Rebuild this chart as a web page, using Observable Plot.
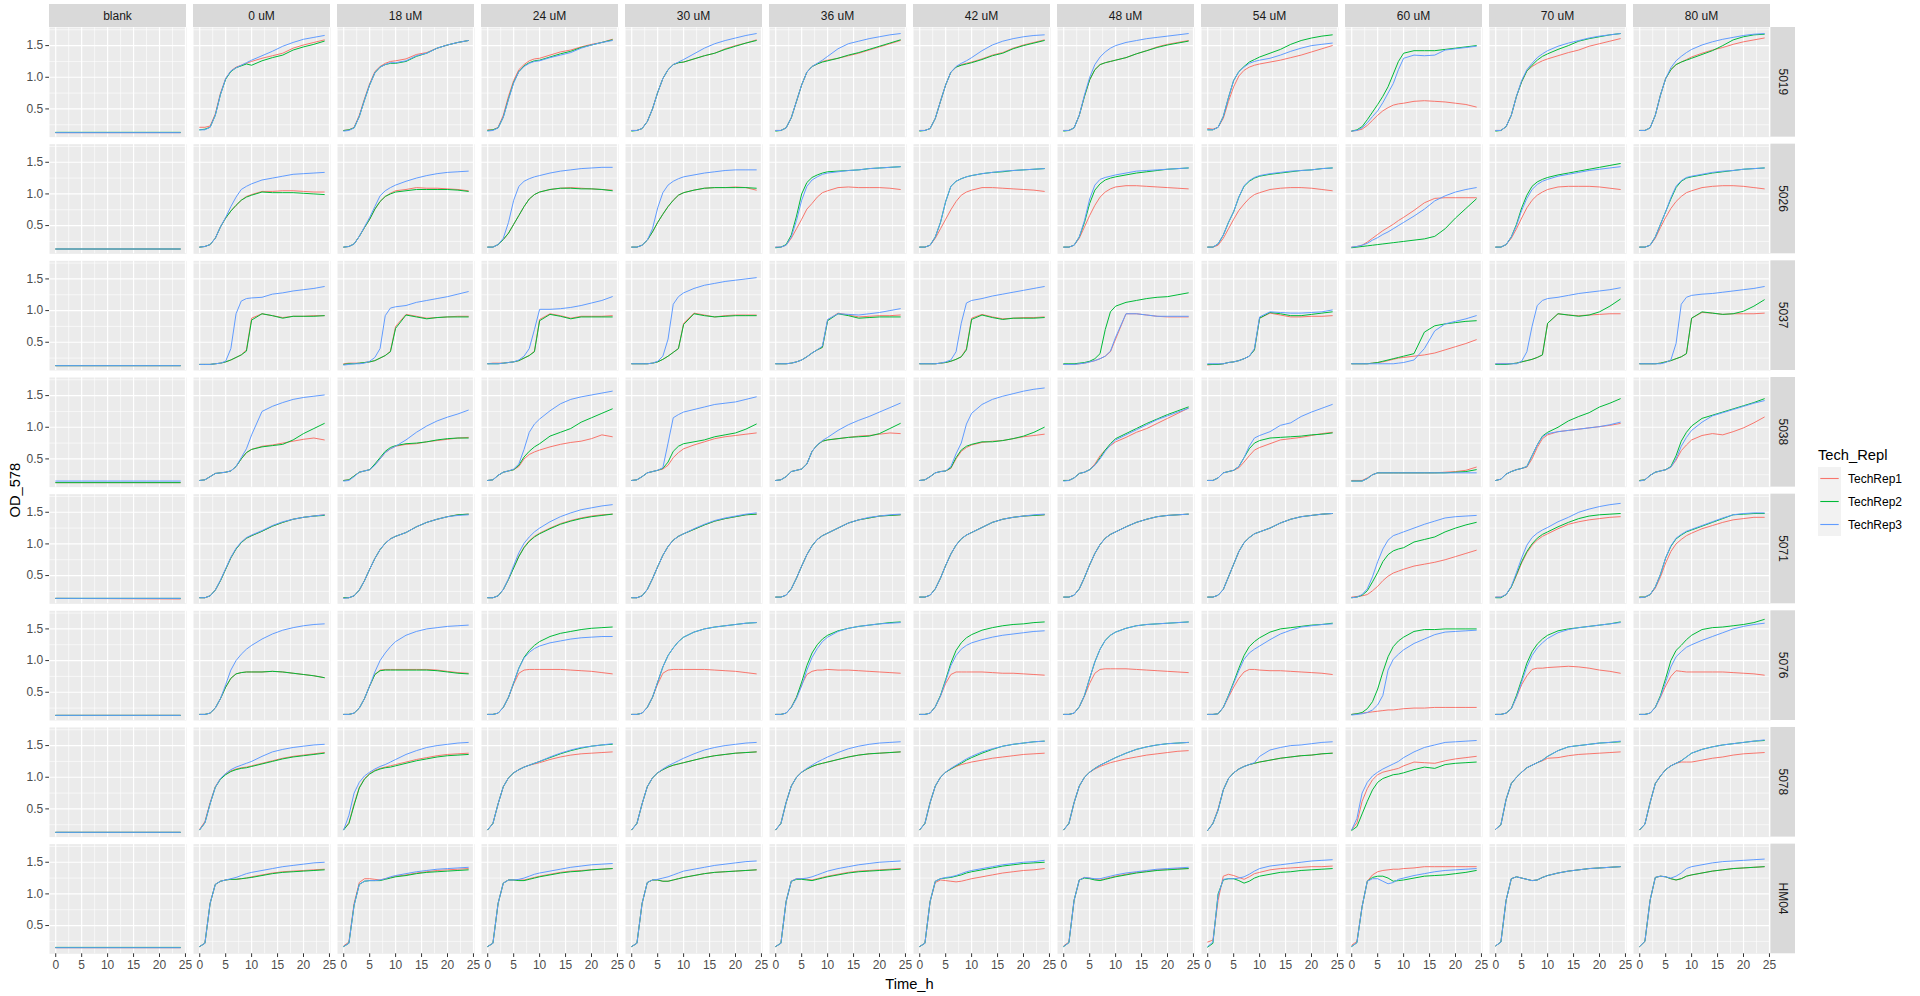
<!DOCTYPE html>
<html><head><meta charset="utf-8">
<script src="https://cdn.jsdelivr.net/npm/d3@7"></script>
<script src="https://cdn.jsdelivr.net/npm/@observablehq/plot@0.6"></script>
<style>html,body{margin:0;padding:0;background:#fff;} svg{display:block;}</style>
</head><body><div id="chart"></div>
<script>
const TIMES = [0,1,2,3,4,5,6,7,8,9,10,12,14,16,18,20,22,24];
const BLANK_T = [0, 24];
const CONCS = ["blank","0 uM","18 uM","24 uM","30 uM","36 uM","42 uM","48 uM","54 uM","60 uM","70 uM","80 uM"];
const STRAINS = ["5019","5026","5037","5038","5071","5076","5078","HM04"];
const REPS = ["TechRep1","TechRep2","TechRep3"];
const REP_COLORS = ["#F8766D","#00BA38","#619CFF"];
const X_TICKS = [0,5,10,15,20,25];
const X_MINOR = [2.5,7.5,12.5,17.5,22.5];
const Y_TICKS = [0.5,1.0,1.5];
const Y_MINOR = [0.25,0.75,1.25,1.75];

const OD_5019 = [
 [[0.125,0.125],[0.13,0.13],[0.125,0.125]],
 [[0.21,0.21,0.23,0.42,0.75,0.98,1.10,1.16,1.19,1.22,1.25,1.30,1.34,1.38,1.46,1.51,1.55,1.59],
  [0.17,0.18,0.21,0.40,0.73,0.97,1.09,1.15,1.18,1.21,1.19,1.26,1.31,1.35,1.43,1.48,1.52,1.57],
  [0.17,0.17,0.21,0.40,0.73,0.98,1.10,1.15,1.19,1.23,1.27,1.34,1.41,1.49,1.55,1.60,1.63,1.66]],
 [[0.16,0.17,0.21,0.40,0.66,0.90,1.09,1.17,1.22,1.25,1.26,1.29,1.36,1.39,1.46,1.51,1.55,1.58],
  [0.16,0.17,0.20,0.38,0.64,0.88,1.07,1.16,1.20,1.22,1.22,1.25,1.33,1.38,1.46,1.51,1.55,1.58],
  [0.15,0.16,0.20,0.38,0.64,0.88,1.07,1.16,1.20,1.23,1.23,1.26,1.34,1.38,1.46,1.51,1.55,1.58]],
 [[0.17,0.17,0.21,0.40,0.70,0.95,1.12,1.20,1.26,1.29,1.30,1.35,1.40,1.43,1.48,1.52,1.55,1.60],
  [0.16,0.17,0.20,0.37,0.66,0.92,1.09,1.18,1.23,1.26,1.27,1.32,1.37,1.41,1.47,1.51,1.55,1.59],
  [0.15,0.16,0.20,0.37,0.65,0.91,1.09,1.17,1.22,1.25,1.26,1.31,1.35,1.39,1.46,1.51,1.55,1.58]],
 [[0.16,0.16,0.19,0.30,0.50,0.76,0.98,1.12,1.20,1.23,1.24,1.29,1.34,1.38,1.45,1.50,1.54,1.59],
  [0.15,0.16,0.19,0.30,0.50,0.76,0.98,1.12,1.20,1.23,1.24,1.29,1.34,1.38,1.44,1.49,1.54,1.58],
  [0.16,0.16,0.19,0.30,0.50,0.76,0.98,1.12,1.20,1.24,1.28,1.37,1.46,1.53,1.58,1.62,1.66,1.69]],
 [[0.16,0.16,0.20,0.36,0.62,0.88,1.08,1.17,1.21,1.25,1.27,1.30,1.34,1.38,1.43,1.48,1.53,1.58],
  [0.15,0.16,0.20,0.36,0.62,0.88,1.08,1.17,1.21,1.24,1.26,1.30,1.35,1.39,1.44,1.49,1.54,1.59],
  [0.16,0.16,0.20,0.36,0.62,0.88,1.08,1.17,1.22,1.27,1.33,1.45,1.53,1.57,1.61,1.64,1.67,1.69]],
 [[0.16,0.16,0.19,0.35,0.62,0.88,1.08,1.16,1.20,1.22,1.24,1.29,1.35,1.39,1.46,1.51,1.55,1.59],
  [0.15,0.16,0.19,0.35,0.62,0.88,1.08,1.16,1.19,1.21,1.23,1.28,1.34,1.38,1.45,1.50,1.54,1.58],
  [0.16,0.16,0.19,0.35,0.62,0.88,1.08,1.17,1.22,1.26,1.31,1.42,1.51,1.57,1.61,1.64,1.66,1.67]],
 [[0.16,0.16,0.20,0.40,0.70,0.96,1.12,1.20,1.23,1.25,1.27,1.31,1.37,1.42,1.48,1.52,1.55,1.58],
  [0.15,0.16,0.20,0.40,0.70,0.96,1.12,1.20,1.23,1.25,1.27,1.31,1.37,1.42,1.47,1.51,1.54,1.57],
  [0.16,0.16,0.20,0.40,0.72,1.00,1.20,1.32,1.40,1.46,1.50,1.55,1.58,1.61,1.63,1.65,1.67,1.69]],
 [[0.19,0.18,0.21,0.35,0.62,0.85,1.02,1.11,1.16,1.19,1.21,1.24,1.27,1.31,1.35,1.40,1.45,1.50],
  [0.17,0.17,0.21,0.38,0.68,0.95,1.09,1.17,1.24,1.28,1.32,1.38,1.44,1.52,1.58,1.62,1.65,1.67],
  [0.17,0.17,0.21,0.38,0.68,0.95,1.09,1.16,1.22,1.25,1.27,1.30,1.35,1.41,1.46,1.50,1.52,1.54]],
 [[0.15,0.16,0.18,0.24,0.32,0.40,0.47,0.52,0.56,0.58,0.59,0.62,0.63,0.62,0.61,0.59,0.57,0.53],
  [0.15,0.17,0.22,0.33,0.45,0.57,0.70,0.85,1.05,1.25,1.38,1.42,1.42,1.42,1.44,1.46,1.48,1.50],
  [0.15,0.16,0.20,0.28,0.38,0.47,0.60,0.75,0.90,1.12,1.30,1.35,1.34,1.35,1.43,1.45,1.47,1.49]],
 [[0.16,0.16,0.22,0.40,0.70,0.93,1.10,1.17,1.22,1.26,1.29,1.34,1.39,1.43,1.49,1.53,1.57,1.61],
  [0.15,0.16,0.22,0.40,0.70,0.93,1.10,1.19,1.27,1.33,1.37,1.44,1.50,1.57,1.61,1.64,1.67,1.69],
  [0.16,0.16,0.22,0.40,0.70,0.95,1.12,1.22,1.31,1.37,1.42,1.49,1.54,1.58,1.62,1.65,1.67,1.69]],
 [[0.16,0.16,0.20,0.40,0.72,0.98,1.12,1.20,1.24,1.28,1.32,1.38,1.43,1.47,1.52,1.56,1.59,1.62],
  [0.16,0.16,0.20,0.40,0.72,0.98,1.12,1.20,1.24,1.27,1.30,1.36,1.42,1.50,1.59,1.64,1.67,1.68],
  [0.16,0.16,0.20,0.40,0.72,0.98,1.15,1.26,1.33,1.39,1.44,1.51,1.56,1.60,1.63,1.66,1.68,1.69]]
];

const OD_5026 = [
 [[0.13,0.13],[0.13,0.13],[0.13,0.13]],
 [[0.16,0.17,0.20,0.30,0.48,0.62,0.73,0.82,0.90,0.96,0.99,1.04,1.04,1.05,1.05,1.04,1.03,1.03],
  [0.16,0.17,0.20,0.30,0.48,0.62,0.73,0.82,0.90,0.95,0.98,1.03,1.02,1.02,1.02,1.01,1.00,0.99],
  [0.16,0.17,0.20,0.30,0.48,0.63,0.80,0.95,1.07,1.12,1.16,1.22,1.25,1.28,1.31,1.32,1.33,1.34]],
 [[0.16,0.17,0.21,0.33,0.47,0.60,0.76,0.88,0.96,1.01,1.05,1.07,1.10,1.09,1.09,1.08,1.07,1.05],
  [0.16,0.17,0.21,0.33,0.47,0.60,0.76,0.88,0.96,1.00,1.03,1.05,1.07,1.07,1.07,1.07,1.06,1.04],
  [0.16,0.17,0.21,0.33,0.48,0.63,0.80,0.97,1.05,1.10,1.14,1.20,1.25,1.29,1.32,1.34,1.35,1.36]],
 [[0.16,0.16,0.20,0.28,0.38,0.52,0.66,0.80,0.92,0.99,1.03,1.07,1.09,1.10,1.09,1.08,1.07,1.06],
  [0.16,0.16,0.20,0.28,0.38,0.52,0.66,0.80,0.92,0.99,1.03,1.07,1.09,1.09,1.08,1.08,1.07,1.05],
  [0.16,0.16,0.20,0.30,0.55,0.90,1.12,1.20,1.24,1.27,1.29,1.33,1.36,1.38,1.40,1.41,1.42,1.42]],
 [[0.16,0.16,0.19,0.27,0.40,0.55,0.68,0.80,0.90,0.98,1.02,1.06,1.09,1.10,1.10,1.11,1.10,1.06],
  [0.16,0.16,0.19,0.27,0.40,0.55,0.68,0.80,0.90,0.98,1.02,1.06,1.09,1.10,1.10,1.10,1.10,1.09],
  [0.16,0.16,0.19,0.27,0.45,0.78,1.02,1.14,1.20,1.24,1.27,1.30,1.33,1.35,1.37,1.38,1.38,1.38]],
 [[0.16,0.16,0.19,0.30,0.45,0.60,0.76,0.85,0.95,1.02,1.05,1.10,1.11,1.10,1.10,1.10,1.09,1.07],
  [0.15,0.16,0.20,0.35,0.65,1.00,1.18,1.26,1.30,1.33,1.35,1.36,1.37,1.38,1.40,1.41,1.42,1.43],
  [0.16,0.16,0.19,0.32,0.58,0.90,1.12,1.22,1.27,1.31,1.33,1.35,1.37,1.38,1.40,1.41,1.42,1.43]],
 [[0.16,0.16,0.19,0.30,0.45,0.60,0.75,0.88,0.98,1.03,1.06,1.10,1.10,1.09,1.08,1.07,1.06,1.04],
  [0.16,0.16,0.19,0.32,0.55,0.88,1.12,1.20,1.24,1.27,1.29,1.32,1.34,1.35,1.37,1.38,1.39,1.40],
  [0.16,0.16,0.19,0.32,0.55,0.88,1.12,1.20,1.24,1.27,1.29,1.32,1.34,1.36,1.37,1.38,1.39,1.40]],
 [[0.16,0.16,0.19,0.30,0.48,0.66,0.82,0.95,1.03,1.08,1.11,1.13,1.13,1.12,1.11,1.10,1.09,1.08],
  [0.16,0.16,0.19,0.32,0.55,0.85,1.06,1.16,1.22,1.25,1.27,1.30,1.33,1.35,1.37,1.39,1.40,1.41],
  [0.16,0.16,0.19,0.32,0.58,0.92,1.14,1.23,1.26,1.28,1.30,1.33,1.36,1.37,1.38,1.39,1.40,1.41]],
 [[0.16,0.16,0.19,0.30,0.45,0.60,0.74,0.84,0.93,0.99,1.02,1.07,1.09,1.10,1.10,1.09,1.07,1.05],
  [0.16,0.16,0.21,0.35,0.55,0.72,0.95,1.12,1.20,1.25,1.28,1.31,1.33,1.35,1.37,1.38,1.40,1.41],
  [0.16,0.16,0.21,0.35,0.55,0.72,0.95,1.13,1.21,1.26,1.29,1.32,1.34,1.36,1.37,1.38,1.40,1.41]],
 [[0.16,0.17,0.19,0.24,0.30,0.36,0.42,0.47,0.52,0.58,0.63,0.74,0.86,0.93,0.94,0.94,0.94,0.94],
  [0.15,0.16,0.17,0.18,0.19,0.20,0.21,0.22,0.23,0.24,0.25,0.27,0.29,0.33,0.45,0.62,0.77,0.92],
  [0.16,0.17,0.19,0.22,0.27,0.31,0.36,0.40,0.45,0.50,0.55,0.65,0.76,0.89,0.97,1.03,1.07,1.10]],
 [[0.16,0.16,0.20,0.30,0.45,0.62,0.78,0.90,0.98,1.03,1.07,1.11,1.12,1.12,1.12,1.11,1.09,1.07],
  [0.16,0.16,0.20,0.32,0.52,0.78,0.98,1.12,1.19,1.23,1.26,1.30,1.33,1.36,1.39,1.42,1.45,1.48],
  [0.16,0.16,0.20,0.32,0.50,0.74,0.93,1.07,1.15,1.20,1.23,1.28,1.31,1.34,1.37,1.39,1.41,1.43]],
 [[0.16,0.16,0.19,0.30,0.47,0.63,0.77,0.88,0.96,1.02,1.05,1.10,1.12,1.13,1.13,1.12,1.10,1.08],
  [0.16,0.16,0.19,0.32,0.52,0.72,0.92,1.10,1.20,1.25,1.27,1.30,1.33,1.35,1.37,1.39,1.40,1.41],
  [0.16,0.16,0.19,0.32,0.52,0.72,0.94,1.12,1.21,1.26,1.28,1.31,1.34,1.36,1.37,1.39,1.40,1.41]]
];

const OD_5037 = [
 [[0.13,0.13],[0.13,0.13],[0.13,0.13]],
 [[0.15,0.15,0.15,0.16,0.17,0.19,0.22,0.26,0.30,0.38,0.88,0.95,0.92,0.89,0.91,0.91,0.92,0.92],
  [0.15,0.15,0.15,0.16,0.17,0.19,0.22,0.26,0.30,0.36,0.85,0.95,0.92,0.88,0.91,0.91,0.91,0.92],
  [0.15,0.15,0.15,0.16,0.17,0.20,0.40,0.95,1.15,1.19,1.20,1.21,1.26,1.28,1.31,1.33,1.35,1.38]],
 [[0.16,0.17,0.17,0.17,0.18,0.19,0.21,0.25,0.29,0.36,0.75,0.94,0.91,0.88,0.89,0.90,0.91,0.91],
  [0.15,0.16,0.16,0.17,0.18,0.19,0.21,0.25,0.29,0.35,0.72,0.93,0.90,0.87,0.89,0.90,0.90,0.90],
  [0.14,0.15,0.16,0.16,0.17,0.20,0.26,0.40,0.92,1.04,1.06,1.08,1.13,1.16,1.19,1.22,1.26,1.30]],
 [[0.16,0.17,0.17,0.17,0.18,0.19,0.21,0.25,0.29,0.36,0.86,0.95,0.92,0.88,0.91,0.91,0.91,0.92],
  [0.16,0.16,0.16,0.17,0.18,0.19,0.21,0.25,0.29,0.35,0.84,0.94,0.91,0.87,0.90,0.90,0.90,0.90],
  [0.16,0.16,0.16,0.17,0.18,0.19,0.22,0.28,0.40,0.70,1.02,1.02,1.03,1.05,1.08,1.12,1.16,1.22]],
 [[0.16,0.16,0.16,0.16,0.17,0.19,0.23,0.28,0.34,0.40,0.80,0.96,0.93,0.90,0.92,0.93,0.93,0.93],
  [0.16,0.16,0.16,0.16,0.17,0.19,0.23,0.28,0.34,0.40,0.78,0.95,0.92,0.90,0.91,0.92,0.92,0.92],
  [0.16,0.16,0.16,0.16,0.17,0.20,0.28,0.55,1.10,1.22,1.28,1.35,1.40,1.43,1.46,1.48,1.50,1.52]],
 [[0.16,0.16,0.16,0.17,0.19,0.22,0.27,0.33,0.38,0.42,0.85,0.96,0.93,0.90,0.91,0.92,0.92,0.93],
  [0.16,0.16,0.16,0.17,0.19,0.22,0.27,0.33,0.38,0.42,0.84,0.95,0.92,0.88,0.89,0.90,0.90,0.90],
  [0.16,0.16,0.16,0.17,0.19,0.22,0.27,0.33,0.38,0.44,0.86,0.95,0.94,0.93,0.95,0.97,1.00,1.03]],
 [[0.16,0.16,0.16,0.16,0.17,0.18,0.20,0.23,0.27,0.40,0.88,0.94,0.90,0.87,0.88,0.89,0.89,0.90],
  [0.16,0.16,0.16,0.16,0.17,0.18,0.20,0.23,0.27,0.38,0.86,0.93,0.89,0.86,0.88,0.88,0.88,0.89],
  [0.16,0.16,0.16,0.16,0.17,0.19,0.22,0.35,0.80,1.12,1.16,1.19,1.23,1.26,1.29,1.32,1.35,1.38]],
 [[0.15,0.15,0.15,0.16,0.17,0.19,0.21,0.24,0.28,0.35,0.55,0.95,0.95,0.93,0.91,0.90,0.90,0.90],
  [0.16,0.16,0.16,0.17,0.18,0.20,0.24,0.32,0.70,0.98,1.07,1.13,1.16,1.19,1.21,1.22,1.25,1.28],
  [0.15,0.15,0.15,0.16,0.17,0.19,0.21,0.24,0.28,0.36,0.58,0.95,0.95,0.93,0.91,0.91,0.91,0.91]],
 [[0.14,0.15,0.15,0.16,0.18,0.19,0.21,0.24,0.28,0.38,0.88,0.96,0.93,0.90,0.90,0.91,0.91,0.92],
  [0.15,0.15,0.15,0.16,0.18,0.19,0.21,0.24,0.28,0.38,0.88,0.97,0.95,0.92,0.92,0.94,0.96,0.98],
  [0.16,0.16,0.16,0.16,0.18,0.19,0.21,0.24,0.28,0.40,0.90,0.98,0.97,0.96,0.96,0.97,0.98,1.01]],
 [[0.16,0.16,0.16,0.16,0.17,0.18,0.19,0.21,0.23,0.25,0.26,0.28,0.30,0.33,0.38,0.43,0.48,0.54],
  [0.16,0.16,0.16,0.16,0.17,0.18,0.20,0.22,0.24,0.26,0.28,0.32,0.66,0.76,0.79,0.81,0.83,0.84],
  [0.16,0.16,0.16,0.16,0.16,0.16,0.16,0.16,0.16,0.17,0.18,0.22,0.40,0.68,0.79,0.83,0.87,0.92]],
 [[0.16,0.16,0.16,0.16,0.17,0.19,0.21,0.23,0.26,0.30,0.80,0.95,0.93,0.92,0.93,0.94,0.95,0.95],
  [0.15,0.15,0.15,0.16,0.17,0.19,0.21,0.23,0.26,0.30,0.80,0.95,0.93,0.91,0.93,0.98,1.07,1.18],
  [0.16,0.16,0.16,0.16,0.16,0.20,0.35,0.75,1.08,1.16,1.19,1.21,1.24,1.27,1.29,1.31,1.33,1.36]],
 [[0.16,0.16,0.16,0.16,0.17,0.19,0.21,0.24,0.27,0.32,0.88,0.97,0.96,0.94,0.95,0.95,0.95,0.96],
  [0.16,0.16,0.16,0.16,0.17,0.19,0.21,0.24,0.27,0.32,0.88,0.98,0.96,0.94,0.95,0.99,1.07,1.17],
  [0.16,0.16,0.16,0.16,0.16,0.18,0.22,0.48,1.10,1.21,1.24,1.26,1.27,1.29,1.31,1.33,1.35,1.38]]
];

const OD_5038 = [
 [[0.125,0.125],[0.125,0.125],[0.15,0.15]],
 [[0.16,0.17,0.22,0.27,0.28,0.29,0.31,0.38,0.50,0.60,0.65,0.70,0.72,0.75,0.78,0.81,0.83,0.80],
  [0.16,0.17,0.22,0.27,0.28,0.29,0.31,0.38,0.50,0.60,0.65,0.69,0.71,0.73,0.80,0.90,0.98,1.06],
  [0.16,0.17,0.22,0.27,0.28,0.29,0.31,0.38,0.52,0.66,0.88,1.25,1.33,1.39,1.44,1.47,1.49,1.51]],
 [[0.16,0.17,0.23,0.29,0.31,0.33,0.41,0.50,0.60,0.66,0.70,0.73,0.74,0.77,0.79,0.81,0.83,0.84],
  [0.16,0.17,0.23,0.29,0.31,0.33,0.42,0.52,0.62,0.68,0.71,0.74,0.75,0.77,0.80,0.82,0.83,0.83],
  [0.15,0.16,0.22,0.29,0.31,0.33,0.40,0.50,0.60,0.66,0.70,0.80,0.92,1.02,1.10,1.16,1.21,1.27]],
 [[0.16,0.17,0.24,0.29,0.31,0.33,0.38,0.50,0.57,0.61,0.64,0.69,0.73,0.76,0.78,0.82,0.88,0.85],
  [0.16,0.17,0.24,0.29,0.31,0.33,0.40,0.53,0.62,0.69,0.74,0.86,0.92,0.98,1.08,1.15,1.22,1.29],
  [0.16,0.17,0.24,0.29,0.31,0.34,0.42,0.65,0.92,1.05,1.13,1.26,1.37,1.44,1.48,1.51,1.54,1.57]],
 [[0.16,0.17,0.22,0.28,0.30,0.32,0.34,0.40,0.52,0.60,0.66,0.72,0.77,0.82,0.85,0.87,0.89,0.91],
  [0.16,0.17,0.22,0.28,0.30,0.32,0.35,0.45,0.62,0.70,0.74,0.77,0.80,0.85,0.88,0.91,0.97,1.05],
  [0.16,0.17,0.22,0.28,0.30,0.32,0.36,0.75,1.15,1.20,1.24,1.28,1.32,1.36,1.38,1.40,1.44,1.48]],
 [[0.16,0.17,0.22,0.30,0.32,0.34,0.42,0.62,0.72,0.78,0.80,0.82,0.84,0.86,0.87,0.89,0.91,0.90],
  [0.16,0.17,0.22,0.30,0.32,0.34,0.42,0.62,0.72,0.78,0.80,0.82,0.84,0.85,0.86,0.90,0.98,1.06],
  [0.16,0.17,0.22,0.30,0.32,0.34,0.42,0.62,0.72,0.79,0.84,0.95,1.04,1.11,1.17,1.24,1.31,1.38]],
 [[0.16,0.17,0.22,0.28,0.30,0.31,0.35,0.50,0.62,0.68,0.72,0.76,0.78,0.79,0.82,0.85,0.87,0.89],
  [0.16,0.17,0.22,0.28,0.30,0.31,0.36,0.52,0.64,0.70,0.73,0.77,0.77,0.79,0.82,0.86,0.92,1.00],
  [0.16,0.17,0.22,0.28,0.30,0.31,0.38,0.58,0.75,1.05,1.22,1.36,1.44,1.49,1.53,1.57,1.60,1.62]],
 [[0.16,0.16,0.20,0.27,0.29,0.33,0.42,0.55,0.64,0.71,0.77,0.84,0.92,0.98,1.06,1.14,1.22,1.30],
  [0.16,0.16,0.20,0.27,0.29,0.33,0.40,0.52,0.64,0.74,0.82,0.90,0.98,1.06,1.13,1.20,1.26,1.32],
  [0.15,0.16,0.20,0.27,0.29,0.33,0.40,0.50,0.62,0.72,0.80,0.88,0.96,1.04,1.12,1.18,1.24,1.30]],
 [[0.16,0.16,0.20,0.28,0.30,0.32,0.36,0.45,0.55,0.64,0.68,0.74,0.80,0.82,0.84,0.87,0.90,0.92],
  [0.16,0.16,0.20,0.28,0.30,0.32,0.38,0.52,0.66,0.75,0.79,0.83,0.84,0.85,0.86,0.88,0.89,0.91],
  [0.16,0.16,0.20,0.28,0.30,0.32,0.38,0.52,0.70,0.83,0.87,0.93,1.03,1.07,1.17,1.24,1.30,1.36]],
 [[0.16,0.16,0.16,0.20,0.25,0.28,0.28,0.28,0.28,0.28,0.28,0.28,0.28,0.28,0.29,0.30,0.32,0.37],
  [0.15,0.15,0.15,0.19,0.25,0.28,0.28,0.28,0.28,0.28,0.28,0.28,0.28,0.28,0.28,0.29,0.30,0.33],
  [0.15,0.15,0.15,0.19,0.25,0.28,0.28,0.28,0.28,0.28,0.28,0.28,0.28,0.28,0.28,0.28,0.28,0.28]],
 [[0.16,0.18,0.26,0.30,0.33,0.35,0.37,0.50,0.68,0.82,0.88,0.93,0.95,0.97,0.99,1.01,1.03,1.06],
  [0.16,0.18,0.26,0.30,0.33,0.35,0.38,0.55,0.72,0.86,0.92,1.00,1.10,1.17,1.23,1.32,1.38,1.45],
  [0.16,0.18,0.26,0.30,0.33,0.35,0.38,0.55,0.72,0.85,0.90,0.93,0.95,0.97,0.99,1.01,1.04,1.08]],
 [[0.16,0.17,0.24,0.29,0.31,0.33,0.37,0.48,0.63,0.72,0.80,0.87,0.90,0.88,0.93,0.99,1.07,1.16],
  [0.16,0.17,0.24,0.29,0.31,0.33,0.38,0.55,0.78,0.92,1.02,1.14,1.19,1.24,1.29,1.34,1.39,1.45],
  [0.15,0.17,0.24,0.29,0.31,0.33,0.37,0.50,0.70,0.84,0.95,1.08,1.18,1.23,1.28,1.33,1.38,1.42]]
];

const OD_5071 = [
 [[0.14,0.13],[0.14,0.14],[0.14,0.14]],
 [[0.15,0.15,0.18,0.27,0.42,0.60,0.78,0.92,1.02,1.09,1.13,1.20,1.28,1.34,1.39,1.42,1.44,1.46],
  [0.15,0.15,0.18,0.27,0.42,0.60,0.78,0.92,1.02,1.09,1.13,1.20,1.28,1.34,1.39,1.42,1.44,1.45],
  [0.15,0.15,0.18,0.27,0.43,0.61,0.79,0.93,1.03,1.10,1.14,1.21,1.29,1.35,1.39,1.42,1.44,1.46]],
 [[0.15,0.15,0.18,0.27,0.42,0.60,0.77,0.91,1.01,1.08,1.12,1.18,1.27,1.34,1.39,1.43,1.46,1.47],
  [0.15,0.15,0.18,0.27,0.42,0.60,0.77,0.91,1.01,1.08,1.12,1.18,1.27,1.34,1.39,1.43,1.46,1.47],
  [0.14,0.15,0.18,0.27,0.42,0.60,0.77,0.91,1.01,1.08,1.12,1.18,1.27,1.34,1.39,1.43,1.45,1.46]],
 [[0.15,0.15,0.18,0.28,0.44,0.63,0.81,0.95,1.05,1.12,1.17,1.25,1.32,1.37,1.41,1.44,1.46,1.47],
  [0.15,0.15,0.18,0.28,0.44,0.62,0.80,0.94,1.04,1.11,1.16,1.24,1.31,1.36,1.40,1.43,1.45,1.47],
  [0.15,0.15,0.18,0.28,0.45,0.66,0.86,1.01,1.11,1.19,1.25,1.35,1.43,1.49,1.54,1.57,1.60,1.62]],
 [[0.15,0.15,0.18,0.28,0.45,0.64,0.82,0.96,1.06,1.12,1.16,1.23,1.30,1.36,1.40,1.43,1.46,1.47],
  [0.15,0.15,0.18,0.28,0.45,0.64,0.82,0.96,1.06,1.12,1.16,1.23,1.30,1.36,1.40,1.43,1.46,1.47],
  [0.15,0.15,0.18,0.28,0.45,0.64,0.82,0.96,1.06,1.12,1.16,1.24,1.31,1.37,1.41,1.44,1.47,1.49]],
 [[0.16,0.16,0.19,0.29,0.46,0.65,0.83,0.97,1.07,1.13,1.17,1.25,1.33,1.38,1.41,1.44,1.45,1.46],
  [0.16,0.16,0.19,0.29,0.46,0.65,0.83,0.97,1.07,1.13,1.17,1.25,1.33,1.38,1.41,1.44,1.45,1.46],
  [0.16,0.16,0.19,0.29,0.46,0.65,0.83,0.97,1.07,1.13,1.17,1.25,1.33,1.38,1.42,1.44,1.46,1.47]],
 [[0.16,0.16,0.19,0.29,0.46,0.66,0.84,0.98,1.08,1.14,1.18,1.26,1.34,1.39,1.42,1.44,1.45,1.46],
  [0.16,0.16,0.19,0.29,0.46,0.66,0.84,0.98,1.08,1.14,1.18,1.26,1.34,1.39,1.42,1.44,1.45,1.46],
  [0.16,0.16,0.19,0.29,0.46,0.66,0.84,0.98,1.08,1.14,1.18,1.26,1.34,1.39,1.42,1.44,1.46,1.47]],
 [[0.16,0.16,0.19,0.29,0.47,0.67,0.85,0.99,1.09,1.15,1.19,1.27,1.34,1.39,1.43,1.45,1.46,1.47],
  [0.16,0.16,0.19,0.29,0.47,0.67,0.85,0.99,1.09,1.15,1.19,1.27,1.34,1.39,1.43,1.45,1.46,1.47],
  [0.16,0.16,0.19,0.29,0.47,0.67,0.85,0.99,1.09,1.15,1.19,1.27,1.34,1.39,1.43,1.45,1.46,1.47]],
 [[0.16,0.16,0.19,0.28,0.48,0.68,0.88,1.02,1.10,1.16,1.19,1.25,1.33,1.39,1.43,1.45,1.47,1.48],
  [0.16,0.16,0.19,0.28,0.48,0.68,0.88,1.02,1.10,1.16,1.19,1.25,1.33,1.39,1.43,1.45,1.47,1.48],
  [0.16,0.16,0.19,0.28,0.48,0.68,0.88,1.02,1.10,1.16,1.19,1.25,1.33,1.39,1.43,1.45,1.47,1.48]],
 [[0.16,0.17,0.18,0.20,0.26,0.33,0.42,0.49,0.54,0.57,0.60,0.65,0.68,0.71,0.75,0.80,0.85,0.90],
  [0.15,0.16,0.19,0.26,0.40,0.55,0.72,0.83,0.89,0.92,0.94,1.03,1.07,1.11,1.19,1.25,1.30,1.34],
  [0.15,0.16,0.20,0.29,0.48,0.72,0.92,1.06,1.13,1.16,1.19,1.25,1.31,1.36,1.41,1.43,1.44,1.45]],
 [[0.16,0.16,0.20,0.32,0.50,0.70,0.86,0.98,1.06,1.12,1.16,1.24,1.31,1.35,1.38,1.40,1.42,1.43],
  [0.15,0.15,0.20,0.32,0.52,0.72,0.88,1.00,1.09,1.15,1.19,1.27,1.34,1.40,1.44,1.46,1.47,1.48],
  [0.16,0.16,0.20,0.33,0.55,0.78,0.98,1.10,1.17,1.22,1.26,1.35,1.42,1.50,1.55,1.59,1.62,1.64]],
 [[0.16,0.16,0.20,0.30,0.48,0.70,0.88,1.00,1.07,1.13,1.17,1.24,1.29,1.34,1.38,1.40,1.42,1.42],
  [0.16,0.16,0.20,0.32,0.52,0.78,0.96,1.08,1.14,1.19,1.22,1.28,1.34,1.40,1.46,1.47,1.48,1.48],
  [0.15,0.16,0.20,0.32,0.52,0.78,0.97,1.09,1.15,1.20,1.23,1.29,1.35,1.41,1.46,1.48,1.49,1.49]]
];

const OD_5076 = [
 [[0.135,0.135],[0.135,0.135],[0.135,0.135]],
 [[0.15,0.15,0.17,0.25,0.40,0.58,0.72,0.79,0.81,0.82,0.82,0.82,0.83,0.82,0.80,0.78,0.76,0.73],
  [0.15,0.15,0.17,0.25,0.40,0.58,0.72,0.79,0.81,0.82,0.82,0.82,0.83,0.82,0.80,0.78,0.76,0.73],
  [0.15,0.15,0.17,0.25,0.40,0.62,0.85,1.00,1.10,1.18,1.24,1.34,1.42,1.48,1.52,1.55,1.57,1.58]],
 [[0.15,0.15,0.17,0.25,0.40,0.60,0.78,0.85,0.86,0.86,0.86,0.86,0.86,0.86,0.85,0.83,0.81,0.80],
  [0.15,0.15,0.17,0.25,0.40,0.60,0.78,0.84,0.85,0.85,0.85,0.85,0.85,0.85,0.84,0.82,0.80,0.79],
  [0.15,0.15,0.17,0.25,0.40,0.60,0.82,1.00,1.12,1.22,1.30,1.40,1.46,1.50,1.52,1.54,1.55,1.56]],
 [[0.15,0.15,0.17,0.26,0.42,0.63,0.80,0.85,0.86,0.86,0.86,0.86,0.86,0.85,0.84,0.83,0.81,0.79],
  [0.15,0.15,0.17,0.26,0.42,0.65,0.88,1.05,1.16,1.24,1.30,1.38,1.43,1.46,1.49,1.51,1.52,1.53],
  [0.15,0.15,0.17,0.26,0.42,0.65,0.88,1.04,1.13,1.19,1.23,1.28,1.31,1.34,1.36,1.37,1.38,1.38]],
 [[0.15,0.15,0.17,0.26,0.42,0.63,0.80,0.85,0.86,0.86,0.86,0.86,0.86,0.85,0.84,0.83,0.81,0.79],
  [0.15,0.15,0.17,0.26,0.42,0.66,0.90,1.08,1.20,1.30,1.37,1.45,1.50,1.53,1.55,1.57,1.59,1.60],
  [0.15,0.15,0.17,0.26,0.42,0.66,0.90,1.08,1.20,1.30,1.37,1.45,1.50,1.53,1.55,1.57,1.59,1.60]],
 [[0.15,0.15,0.17,0.26,0.42,0.62,0.78,0.83,0.85,0.85,0.86,0.85,0.85,0.84,0.83,0.82,0.81,0.80],
  [0.15,0.15,0.17,0.26,0.42,0.66,0.92,1.12,1.25,1.34,1.40,1.47,1.51,1.54,1.56,1.58,1.60,1.61],
  [0.15,0.15,0.17,0.26,0.40,0.60,0.85,1.05,1.19,1.30,1.37,1.46,1.51,1.54,1.56,1.58,1.59,1.60]],
 [[0.15,0.15,0.17,0.27,0.44,0.64,0.78,0.82,0.82,0.82,0.82,0.82,0.81,0.80,0.80,0.79,0.78,0.77],
  [0.15,0.15,0.17,0.27,0.45,0.70,0.96,1.16,1.28,1.36,1.41,1.48,1.52,1.55,1.57,1.58,1.60,1.61],
  [0.15,0.15,0.17,0.27,0.44,0.68,0.92,1.08,1.18,1.24,1.28,1.33,1.37,1.40,1.42,1.44,1.46,1.47]],
 [[0.15,0.15,0.17,0.27,0.44,0.64,0.80,0.86,0.87,0.87,0.87,0.87,0.86,0.85,0.84,0.83,0.82,0.81],
  [0.15,0.15,0.17,0.27,0.45,0.72,0.98,1.18,1.32,1.40,1.45,1.51,1.55,1.57,1.58,1.59,1.60,1.61],
  [0.15,0.15,0.17,0.27,0.45,0.72,0.98,1.18,1.32,1.40,1.45,1.51,1.55,1.57,1.58,1.59,1.60,1.61]],
 [[0.15,0.15,0.16,0.26,0.42,0.58,0.72,0.82,0.86,0.86,0.85,0.84,0.84,0.83,0.82,0.81,0.80,0.78],
  [0.15,0.15,0.16,0.26,0.45,0.66,0.88,1.08,1.22,1.30,1.36,1.45,1.50,1.52,1.54,1.56,1.57,1.59],
  [0.15,0.15,0.16,0.26,0.44,0.64,0.84,1.02,1.12,1.18,1.23,1.33,1.42,1.48,1.53,1.55,1.57,1.58]],
 [[0.15,0.16,0.17,0.18,0.19,0.20,0.21,0.22,0.22,0.23,0.24,0.25,0.25,0.26,0.26,0.26,0.26,0.26],
  [0.15,0.16,0.18,0.24,0.35,0.55,0.82,1.06,1.22,1.31,1.37,1.46,1.49,1.49,1.50,1.50,1.50,1.50],
  [0.14,0.15,0.16,0.18,0.22,0.30,0.45,0.85,1.02,1.10,1.17,1.27,1.34,1.41,1.45,1.46,1.47,1.48]],
 [[0.15,0.15,0.17,0.24,0.42,0.62,0.76,0.86,0.88,0.88,0.89,0.90,0.91,0.90,0.88,0.85,0.83,0.80],
  [0.15,0.15,0.17,0.24,0.45,0.70,0.96,1.14,1.26,1.34,1.40,1.47,1.50,1.52,1.54,1.56,1.58,1.61],
  [0.15,0.15,0.17,0.24,0.42,0.66,0.90,1.08,1.20,1.28,1.35,1.44,1.49,1.52,1.54,1.56,1.58,1.60]],
 [[0.15,0.15,0.17,0.26,0.42,0.60,0.75,0.84,0.83,0.82,0.82,0.82,0.82,0.82,0.81,0.80,0.79,0.77],
  [0.15,0.15,0.17,0.26,0.45,0.72,1.00,1.16,1.24,1.33,1.40,1.49,1.52,1.53,1.55,1.57,1.60,1.65],
  [0.15,0.15,0.17,0.26,0.43,0.66,0.90,1.06,1.14,1.21,1.25,1.32,1.38,1.44,1.50,1.54,1.57,1.59]]
];

const OD_5078 = [
 [[0.13,0.13],[0.13,0.13],[0.13,0.13]],
 [[0.18,0.30,0.60,0.85,0.98,1.05,1.10,1.13,1.15,1.16,1.18,1.22,1.26,1.30,1.33,1.35,1.37,1.39],
  [0.17,0.28,0.58,0.84,0.97,1.04,1.09,1.12,1.14,1.15,1.17,1.21,1.25,1.29,1.32,1.34,1.36,1.38],
  [0.17,0.28,0.58,0.84,0.98,1.06,1.12,1.16,1.19,1.22,1.25,1.33,1.40,1.44,1.47,1.49,1.51,1.52]],
 [[0.18,0.28,0.58,0.84,0.98,1.06,1.11,1.14,1.16,1.18,1.20,1.24,1.28,1.31,1.34,1.36,1.37,1.38],
  [0.17,0.27,0.56,0.83,0.97,1.05,1.10,1.13,1.15,1.16,1.18,1.22,1.26,1.29,1.32,1.34,1.35,1.36],
  [0.17,0.40,0.75,0.92,1.02,1.08,1.13,1.17,1.20,1.24,1.28,1.36,1.42,1.47,1.50,1.52,1.54,1.55]],
 [[0.17,0.27,0.58,0.85,0.99,1.07,1.12,1.16,1.19,1.21,1.23,1.28,1.32,1.35,1.37,1.38,1.39,1.40],
  [0.17,0.27,0.58,0.85,0.99,1.07,1.12,1.16,1.19,1.22,1.25,1.31,1.37,1.42,1.46,1.49,1.51,1.52],
  [0.17,0.27,0.58,0.85,0.99,1.07,1.12,1.16,1.19,1.22,1.25,1.32,1.38,1.43,1.47,1.49,1.51,1.53]],
 [[0.17,0.27,0.58,0.85,0.99,1.07,1.12,1.16,1.19,1.21,1.23,1.27,1.31,1.34,1.36,1.38,1.39,1.40],
  [0.17,0.27,0.58,0.85,0.99,1.07,1.12,1.16,1.19,1.21,1.23,1.27,1.31,1.34,1.36,1.38,1.39,1.40],
  [0.17,0.27,0.58,0.85,0.99,1.07,1.13,1.18,1.22,1.26,1.30,1.37,1.43,1.47,1.50,1.52,1.54,1.55]],
 [[0.17,0.27,0.60,0.86,1.00,1.08,1.13,1.17,1.20,1.22,1.24,1.28,1.32,1.35,1.37,1.38,1.39,1.40],
  [0.17,0.27,0.60,0.86,1.00,1.08,1.13,1.17,1.20,1.22,1.24,1.28,1.32,1.35,1.37,1.38,1.39,1.40],
  [0.17,0.27,0.60,0.86,1.00,1.08,1.14,1.19,1.24,1.28,1.32,1.39,1.45,1.49,1.52,1.54,1.55,1.56]],
 [[0.17,0.27,0.60,0.86,1.00,1.08,1.13,1.17,1.20,1.22,1.24,1.27,1.30,1.32,1.34,1.36,1.37,1.38],
  [0.17,0.27,0.60,0.86,1.00,1.08,1.13,1.18,1.22,1.27,1.31,1.38,1.44,1.49,1.52,1.54,1.56,1.57],
  [0.17,0.27,0.60,0.86,1.00,1.08,1.14,1.19,1.24,1.29,1.33,1.40,1.45,1.49,1.52,1.54,1.56,1.57]],
 [[0.17,0.27,0.60,0.86,1.00,1.08,1.13,1.17,1.20,1.23,1.25,1.29,1.32,1.35,1.37,1.39,1.41,1.42],
  [0.17,0.27,0.60,0.86,1.00,1.08,1.14,1.19,1.23,1.27,1.31,1.38,1.44,1.48,1.51,1.53,1.54,1.55],
  [0.17,0.27,0.60,0.86,1.00,1.08,1.14,1.19,1.23,1.27,1.31,1.38,1.44,1.48,1.51,1.53,1.54,1.55]],
 [[0.16,0.27,0.50,0.80,0.98,1.07,1.13,1.17,1.20,1.22,1.24,1.27,1.30,1.32,1.34,1.35,1.37,1.38],
  [0.16,0.27,0.48,0.80,0.98,1.07,1.13,1.17,1.20,1.22,1.24,1.27,1.30,1.32,1.34,1.35,1.37,1.38],
  [0.16,0.27,0.48,0.80,0.98,1.07,1.13,1.17,1.20,1.23,1.33,1.43,1.47,1.50,1.51,1.53,1.55,1.56]],
 [[0.17,0.28,0.62,0.82,0.96,1.04,1.08,1.10,1.12,1.14,1.18,1.24,1.23,1.22,1.26,1.29,1.31,1.33],
  [0.16,0.22,0.42,0.62,0.80,0.92,0.98,1.01,1.04,1.05,1.07,1.12,1.16,1.14,1.20,1.22,1.23,1.24],
  [0.17,0.35,0.75,0.92,1.02,1.08,1.13,1.17,1.21,1.25,1.31,1.40,1.47,1.51,1.55,1.56,1.57,1.58]],
 [[0.18,0.25,0.65,0.90,1.00,1.08,1.15,1.19,1.23,1.26,1.30,1.31,1.34,1.36,1.37,1.38,1.39,1.40],
  [0.18,0.25,0.65,0.90,1.00,1.08,1.15,1.19,1.23,1.27,1.33,1.42,1.48,1.50,1.52,1.54,1.55,1.56],
  [0.18,0.25,0.65,0.90,1.00,1.08,1.15,1.19,1.23,1.27,1.33,1.42,1.48,1.50,1.52,1.54,1.55,1.57]],
 [[0.17,0.26,0.60,0.90,1.02,1.12,1.18,1.22,1.24,1.24,1.24,1.27,1.30,1.32,1.35,1.37,1.38,1.39],
  [0.17,0.26,0.60,0.90,1.02,1.12,1.18,1.22,1.26,1.32,1.38,1.44,1.48,1.51,1.53,1.55,1.57,1.58],
  [0.17,0.26,0.60,0.90,1.02,1.12,1.18,1.22,1.26,1.32,1.38,1.44,1.48,1.51,1.53,1.55,1.57,1.59]]
];

const OD_HM04 = [
 [[0.15,0.15],[0.155,0.155],[0.15,0.15]],
 [[0.17,0.22,0.85,1.15,1.20,1.22,1.23,1.23,1.24,1.25,1.27,1.30,1.33,1.35,1.36,1.37,1.38,1.39],
  [0.17,0.22,0.85,1.15,1.20,1.22,1.23,1.23,1.24,1.25,1.26,1.29,1.32,1.34,1.35,1.36,1.37,1.38],
  [0.17,0.22,0.85,1.15,1.20,1.22,1.24,1.26,1.29,1.32,1.34,1.37,1.40,1.43,1.45,1.47,1.49,1.50]],
 [[0.18,0.24,0.85,1.18,1.24,1.24,1.23,1.22,1.24,1.26,1.28,1.30,1.33,1.35,1.37,1.38,1.39,1.40],
  [0.17,0.22,0.82,1.15,1.20,1.21,1.21,1.21,1.23,1.25,1.27,1.29,1.32,1.34,1.35,1.36,1.37,1.38],
  [0.17,0.22,0.82,1.15,1.20,1.21,1.21,1.22,1.24,1.27,1.29,1.32,1.35,1.37,1.39,1.40,1.41,1.42]],
 [[0.17,0.22,0.85,1.17,1.22,1.22,1.22,1.22,1.24,1.26,1.28,1.31,1.34,1.36,1.37,1.38,1.39,1.40],
  [0.17,0.22,0.85,1.17,1.22,1.22,1.21,1.21,1.23,1.25,1.27,1.30,1.33,1.35,1.36,1.38,1.39,1.40],
  [0.17,0.22,0.85,1.17,1.22,1.22,1.23,1.25,1.28,1.31,1.33,1.36,1.39,1.42,1.44,1.46,1.47,1.48]],
 [[0.17,0.22,0.85,1.18,1.22,1.22,1.20,1.20,1.22,1.24,1.26,1.29,1.32,1.34,1.35,1.36,1.37,1.38],
  [0.17,0.22,0.85,1.18,1.22,1.22,1.20,1.20,1.22,1.24,1.26,1.29,1.32,1.34,1.35,1.36,1.37,1.38],
  [0.17,0.22,0.85,1.18,1.22,1.23,1.25,1.27,1.30,1.33,1.36,1.39,1.42,1.45,1.47,1.49,1.51,1.52]],
 [[0.17,0.22,0.88,1.20,1.24,1.24,1.23,1.22,1.24,1.26,1.28,1.31,1.34,1.36,1.37,1.38,1.39,1.40],
  [0.17,0.22,0.88,1.20,1.23,1.23,1.22,1.21,1.23,1.25,1.27,1.30,1.33,1.35,1.36,1.37,1.38,1.39],
  [0.17,0.22,0.88,1.20,1.24,1.24,1.25,1.27,1.30,1.33,1.36,1.40,1.43,1.46,1.48,1.50,1.51,1.52]],
 [[0.17,0.22,0.88,1.18,1.22,1.21,1.20,1.19,1.20,1.22,1.24,1.27,1.30,1.33,1.35,1.37,1.38,1.40],
  [0.17,0.22,0.88,1.20,1.24,1.25,1.26,1.28,1.30,1.33,1.35,1.38,1.41,1.44,1.46,1.48,1.49,1.50],
  [0.17,0.22,0.88,1.20,1.24,1.26,1.27,1.29,1.32,1.35,1.37,1.40,1.43,1.46,1.48,1.50,1.51,1.53]],
 [[0.18,0.24,0.90,1.22,1.26,1.25,1.23,1.22,1.24,1.26,1.28,1.31,1.34,1.36,1.38,1.39,1.40,1.40],
  [0.17,0.23,0.90,1.22,1.25,1.24,1.22,1.21,1.23,1.25,1.27,1.30,1.33,1.35,1.37,1.38,1.39,1.40],
  [0.17,0.23,0.90,1.22,1.26,1.25,1.24,1.24,1.26,1.28,1.30,1.33,1.35,1.37,1.39,1.40,1.41,1.42]],
 [[0.24,0.27,0.90,1.28,1.31,1.29,1.26,1.23,1.27,1.32,1.34,1.38,1.40,1.41,1.42,1.43,1.43,1.44],
  [0.16,0.22,1.00,1.22,1.24,1.24,1.21,1.17,1.20,1.25,1.28,1.31,1.34,1.35,1.37,1.38,1.39,1.40],
  [0.17,0.24,0.98,1.23,1.24,1.24,1.25,1.27,1.31,1.36,1.40,1.44,1.46,1.48,1.50,1.52,1.53,1.54]],
 [[0.19,0.25,0.80,1.20,1.30,1.35,1.37,1.38,1.39,1.39,1.40,1.41,1.43,1.43,1.43,1.43,1.43,1.43],
  [0.17,0.23,0.80,1.20,1.26,1.28,1.28,1.25,1.20,1.21,1.22,1.25,1.28,1.29,1.30,1.32,1.34,1.37],
  [0.17,0.23,0.80,1.20,1.24,1.24,1.20,1.16,1.18,1.23,1.25,1.29,1.32,1.35,1.37,1.38,1.39,1.40]],
 [[0.18,0.24,0.90,1.24,1.27,1.25,1.23,1.21,1.22,1.26,1.29,1.33,1.36,1.38,1.40,1.41,1.42,1.43],
  [0.18,0.24,0.90,1.24,1.27,1.25,1.23,1.21,1.22,1.26,1.29,1.33,1.36,1.38,1.40,1.41,1.42,1.43],
  [0.18,0.24,0.90,1.24,1.27,1.25,1.23,1.21,1.22,1.26,1.29,1.33,1.36,1.38,1.40,1.41,1.42,1.43]],
 [[0.17,0.25,0.90,1.26,1.28,1.27,1.24,1.22,1.24,1.28,1.30,1.33,1.36,1.38,1.40,1.41,1.42,1.43],
  [0.17,0.25,0.90,1.26,1.28,1.27,1.24,1.22,1.24,1.28,1.30,1.33,1.36,1.38,1.40,1.41,1.42,1.43],
  [0.17,0.25,0.90,1.26,1.28,1.27,1.25,1.28,1.33,1.40,1.43,1.46,1.49,1.51,1.52,1.53,1.54,1.55]]
];

const STRAIN_TABLES = [OD_5019, OD_5026, OD_5037, OD_5038, OD_5071, OD_5076, OD_5078, OD_HM04];

// long-format table built from the arrays
const points = [];
STRAINS.forEach((strain, si) => {
  STRAIN_TABLES[si].forEach((col, ci) => {
    col.forEach((series, ri) => {
      const ts = series.length === BLANK_T.length ? BLANK_T : TIMES;
      series.forEach((v, k) => points.push({strain, conc: CONCS[ci], rep: REPS[ri], t: ts[k], od: v}));
    });
  });
});

const FONT = "'Liberation Sans', Arial, Helvetica, sans-serif";
const W = 1920, H = 996;
const ML = 49, MR = 150, MT = 27, MB = 42.7;

const plot = Plot.plot({
  width: W, height: H,
  marginLeft: ML, marginRight: MR, marginTop: MT, marginBottom: MB,
  style: {fontFamily: FONT, background: "#ffffff", overflow: "visible"},
  fx: {domain: CONCS, axis: null, paddingInner: 7/144, paddingOuter: 0, round: false, label: null},
  fy: {domain: STRAINS, axis: null, paddingInner: 7/116.7, paddingOuter: 0, round: false, label: null},
  x: {domain: [-1.2, 25.2], label: null},
  y: {domain: [0.054, 1.786], label: null},
  color: {domain: REPS, range: REP_COLORS},
  marks: [
    Plot.frame({fill: "#ebebeb", stroke: "none"}),
    Plot.gridY(Y_MINOR, {stroke: "#ffffff", strokeOpacity: 1, strokeWidth: 0.6}),
    Plot.gridX(X_MINOR, {stroke: "#ffffff", strokeOpacity: 1, strokeWidth: 0.6}),
    Plot.gridY(Y_TICKS, {stroke: "#ffffff", strokeOpacity: 1, strokeWidth: 1.2}),
    Plot.gridX(X_TICKS, {stroke: "#ffffff", strokeOpacity: 1, strokeWidth: 1.2}),
    Plot.line(points, {x: "t", y: "od", z: "rep", stroke: "rep", fx: "conc", fy: "strain", strokeWidth: 1, curve: "linear"}),
    Plot.axisX({ticks: X_TICKS, tickSize: 3.7, tickPadding: 2.6, fontSize: 12, color: "#4d4d4d", stroke: "#333333", label: null, tickFormat: d => String(d)}),
    Plot.axisY({ticks: Y_TICKS, tickSize: 3.7, tickPadding: 2.6, fontSize: 12, color: "#4d4d4d", stroke: "#333333", label: null, tickFormat: d3.format(".1f")})
  ]
});

document.getElementById("chart").appendChild(plot);

// strips, axis titles and legend
const svg = d3.select(plot.tagName.toLowerCase() === "svg" ? plot : plot.querySelector("svg"));
const fxS = plot.scale("fx"), fyS = plot.scale("fy");
const bwx = fxS.bandwidth, bwy = fyS.bandwidth;
const g = svg.append("g").attr("font-family", FONT).attr("text-anchor", "start");
CONCS.forEach(c => {
  const x0 = fxS.apply(c);
  g.append("rect").attr("x", x0).attr("y", 4).attr("width", bwx).attr("height", MT - 4).attr("fill", "#d9d9d9");
  g.append("text").attr("x", x0 + bwx / 2).attr("y", 4 + (MT - 4) / 2).attr("dy", "0.35em")
    .attr("text-anchor", "middle").attr("font-size", 12).attr("fill", "#1a1a1a").text(c);
});
const xr = fxS.apply(CONCS[CONCS.length - 1]) + bwx;
STRAINS.forEach(s => {
  const y0 = fyS.apply(s);
  g.append("rect").attr("x", xr + 0.5).attr("y", y0).attr("width", 24.5).attr("height", bwy).attr("fill", "#d9d9d9");
  const cx = xr + 0.5 + 12.25, cy = y0 + bwy / 2;
  g.append("text").attr("transform", `translate(${cx},${cy}) rotate(90)`).attr("dy", "0.35em")
    .attr("text-anchor", "middle").attr("font-size", 12).attr("fill", "#1a1a1a").text(s);
});
const pxL = fxS.apply(CONCS[0]), pyT = fyS.apply(STRAINS[0]), pyB = fyS.apply(STRAINS[STRAINS.length - 1]) + bwy;
g.append("text").attr("x", (pxL + xr) / 2).attr("y", 989).attr("text-anchor", "middle")
  .attr("font-size", 14.7).attr("fill", "#000").text("Time_h");
g.append("text").attr("transform", `translate(15,${(pyT + pyB) / 2}) rotate(-90)`).attr("dy", "0.35em")
  .attr("text-anchor", "middle").attr("font-size", 14.7).attr("fill", "#000").text("OD_578");

// legend
const LX = 1818, LY = 467, KEY = 23;
g.append("text").attr("x", LX).attr("y", 460).attr("text-anchor", "start")
  .attr("font-size", 14.7).attr("fill", "#000").text("Tech_Repl");
REPS.forEach((r, i) => {
  const y = LY + i * KEY;
  g.append("rect").attr("x", LX).attr("y", y).attr("width", KEY).attr("height", KEY).attr("fill", "#f2f2f2");
  g.append("line").attr("x1", LX + 2.3).attr("x2", LX + KEY - 2.3).attr("y1", y + KEY / 2).attr("y2", y + KEY / 2)
    .attr("stroke", REP_COLORS[i]).attr("stroke-width", 1.1);
  g.append("text").attr("x", LX + KEY + 7).attr("y", y + KEY / 2).attr("dy", "0.35em").attr("text-anchor", "start")
    .attr("font-size", 12).attr("fill", "#000").text(r);
});
</script>
</body></html>
